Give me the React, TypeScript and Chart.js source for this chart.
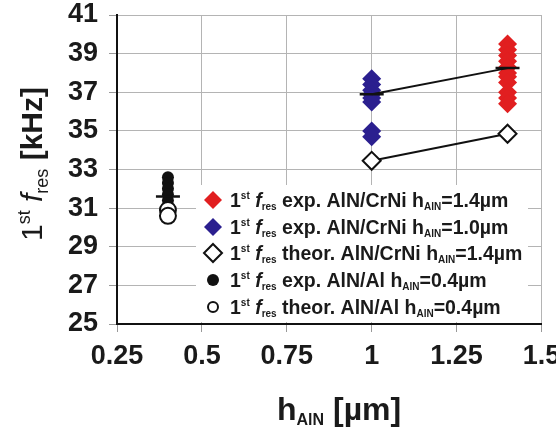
import React, { useEffect, useRef } from 'react';
import { Chart, registerables } from 'chart.js';
Chart.register(...registerables);

// ---- data ----
const X_MIN = 0.25, X_MAX = 1.5, X_STEP = 0.25;
const Y_MIN = 25, Y_MAX = 41, Y_STEP = 2;

const redX = 1.4;
const redY = [39.5, 39.2, 38.9, 38.6, 38.3, 38.0, 37.8, 37.5, 37.0, 36.7, 36.4];
const blueX = 1.0;
const blueY = [37.7, 37.4, 37.1, 36.9, 36.7, 36.5, 35.0, 34.7];
const theorCrNiX = [1.0, 1.4];
const theorCrNiY = [33.45, 34.85];
const blackX = 0.4;
const blackY = [32.6, 32.3, 32.0, 31.7, 31.4, 31.1];
const theorAlX = 0.4;
const theorAlY = [30.9, 30.6];
const meanX = [0.4, 1.0, 1.4];
const meanY = [31.6, 36.9, 38.25];
const trendX = [1.0, 1.4];
const trendY = [36.9, 38.25];

const legendKinds = ['exp.', 'exp.', 'theor.', 'exp.', 'theor.'];
const legendSystems = ['AlN/CrNi', 'AlN/CrNi', 'AlN/CrNi', 'AlN/Al', 'AlN/Al'];
const legendThickness = ['=1.4µm', '=1.0µm', '=1.4µm', '=0.4µm', '=0.4µm'];

const RED = '#e11f20';
const BLUE = '#2b1f8f';
const FONT = '"Liberation Sans", Arial, sans-serif';

type Seg = { t: string; f: string; dy?: number };
function rich(ctx: CanvasRenderingContext2D, x: number, y: number, segs: Seg[]) {
  let cx = x;
  for (const s of segs) {
    ctx.font = s.f;
    ctx.fillText(s.t, cx, y + (s.dy || 0));
    cx += ctx.measureText(s.t).width;
  }
  return cx - x;
}

const pts = (xs: number[] | number, ys: number[]) =>
  ys.map((y, i) => ({ x: Array.isArray(xs) ? xs[i] : xs, y }));

const decorPlugin = {
  id: 'decor',
  afterDatasetsDraw(chart: any) {
    const ctx: CanvasRenderingContext2D = chart.ctx;
    ctx.save();
    // legend box
    ctx.fillStyle = '#fff';
    ctx.fillRect(196, 185, 332, 137);
    const rowY = [200, 227, 253, 280, 307];
    const mx = 213;
    for (let i = 0; i < 5; i++) {
      const y = rowY[i];
      ctx.beginPath();
      if (i < 3) {
        const r = 9;
        ctx.moveTo(mx, y - r); ctx.lineTo(mx + r, y); ctx.lineTo(mx, y + r); ctx.lineTo(mx - r, y); ctx.closePath();
      } else {
        ctx.arc(mx, y, i === 3 ? 6 : 5, 0, Math.PI * 2);
      }
      if (i === 0) { ctx.fillStyle = RED; ctx.fill(); }
      else if (i === 1) { ctx.fillStyle = BLUE; ctx.fill(); }
      else if (i === 3) { ctx.fillStyle = '#111'; ctx.fill(); }
      else { ctx.fillStyle = '#fff'; ctx.fill(); ctx.lineWidth = 2; ctx.strokeStyle = '#111'; ctx.stroke(); }
      ctx.fillStyle = '#1a1a1a';
      ctx.textBaseline = 'alphabetic';
      const B = 'bold 19.5px ' + FONT, S = 'bold 10px ' + FONT;
      rich(ctx, 230, y + 7, [
        { t: '1', f: B }, { t: 'st', f: S, dy: -8 }, { t: ' ', f: B },
        { t: 'f', f: 'italic bold 19.5px ' + FONT }, { t: 'res', f: S, dy: 3 },
        { t: ' ' + legendKinds[i] + ' ' + legendSystems[i] + ' h', f: B },
        { t: 'AlN', f: S, dy: 3 }, { t: legendThickness[i], f: B },
      ]);
    }
    // x title
    ctx.fillStyle = '#1a1a1a';
    const XB = 'bold 32px ' + FONT;
    rich(ctx, 277, 420, [
      { t: 'h', f: XB }, { t: 'AlN', f: 'bold 16px ' + FONT, dy: 5 }, { t: ' [µm]', f: XB },
    ]);
    // y title
    ctx.translate(42, 241);
    ctx.rotate(-Math.PI / 2);
    rich(ctx, 0, 0, [
      { t: '1', f: '30px ' + FONT }, { t: 'st', f: '18px ' + FONT, dy: -12 }, { t: ' ', f: '30px ' + FONT },
      { t: 'f', f: 'italic 30px ' + FONT }, { t: 'res', f: '18px ' + FONT, dy: 6 },
      { t: ' [kHz]', f: 'bold 30px ' + FONT },
    ]);
    ctx.restore();
  },
};

export default function App() {
  const ref = useRef<HTMLCanvasElement | null>(null);
  useEffect(() => {
    if (!ref.current) return;
    const chart = new Chart(ref.current, {
      type: 'scatter',
      data: {
        datasets: [
          { data: pts(meanX, meanY), pointStyle: 'line', pointRadius: 12, borderColor: '#111', borderWidth: 2.5, order: 1 } as any,
          { data: pts(trendX, trendY), showLine: true, pointRadius: 0, borderColor: '#111', borderWidth: 2, order: 2 },
          { data: pts(theorCrNiX, theorCrNiY), showLine: true, pointStyle: 'rectRot', pointRadius: 9, backgroundColor: '#fff', borderColor: '#111', borderWidth: 2, pointBorderWidth: 2, order: 3 } as any,
          { data: pts(theorAlX, theorAlY), pointStyle: 'circle', pointRadius: 8, backgroundColor: '#fff', borderColor: '#111', borderWidth: 2, order: 4 },
          { data: pts(blackX, blackY), pointStyle: 'circle', pointRadius: 6, backgroundColor: '#111', borderColor: '#111', borderWidth: 0, order: 5 },
          { data: pts(blueX, blueY), pointStyle: 'rectRot', pointRadius: 9.5, backgroundColor: BLUE, borderColor: BLUE, borderWidth: 0, order: 6 },
          { data: pts(redX, redY), pointStyle: 'rectRot', pointRadius: 9.5, backgroundColor: RED, borderColor: RED, borderWidth: 0, order: 7 },
        ],
      },
      options: {
        responsive: false,
        animation: false,
        devicePixelRatio: 1,
        layout: { padding: { top: 15, right: 14, left: 0, bottom: 0 } },
        plugins: { legend: { display: false }, tooltip: { enabled: false } },
        scales: {
          x: {
            type: 'linear', min: X_MIN, max: X_MAX,
            ticks: {
              stepSize: X_STEP, color: '#1a1a1a', padding: 8, maxRotation: 0,
              font: { family: '"Liberation Sans", Arial, sans-serif', size: 27, weight: 'bold' },
              callback: (v: any) => String(+Number(v).toFixed(2)),
            },
            grid: { color: '#b4b4b4', lineWidth: 1, tickLength: 8, tickColor: '#999' },
            border: { display: true, color: '#111', width: 2 },
            afterFit: (s: any) => { s.height = 104; s.paddingLeft = 0; s.paddingRight = 0; },
          },
          y: {
            type: 'linear', min: Y_MIN, max: Y_MAX,
            ticks: {
              stepSize: Y_STEP, color: '#1a1a1a', padding: 11,
              font: { family: '"Liberation Sans", Arial, sans-serif', size: 27, weight: 'bold' },
            },
            grid: { color: '#b4b4b4', lineWidth: 1, tickLength: 8, tickColor: '#999' },
            border: { display: true, color: '#111', width: 2 },
            afterFit: (s: any) => { s.width = 117; s.paddingTop = 0; s.paddingBottom = 0; },
          },
        },
      },
      plugins: [decorPlugin],
    } as any);
    return () => chart.destroy();
  }, []);
  return (
    <div style={{ position: 'absolute', left: 0, top: 0, width: 556, height: 428, background: '#fff' }}>
      <canvas ref={ref} width={556} height={428} />
    </div>
  );
}
